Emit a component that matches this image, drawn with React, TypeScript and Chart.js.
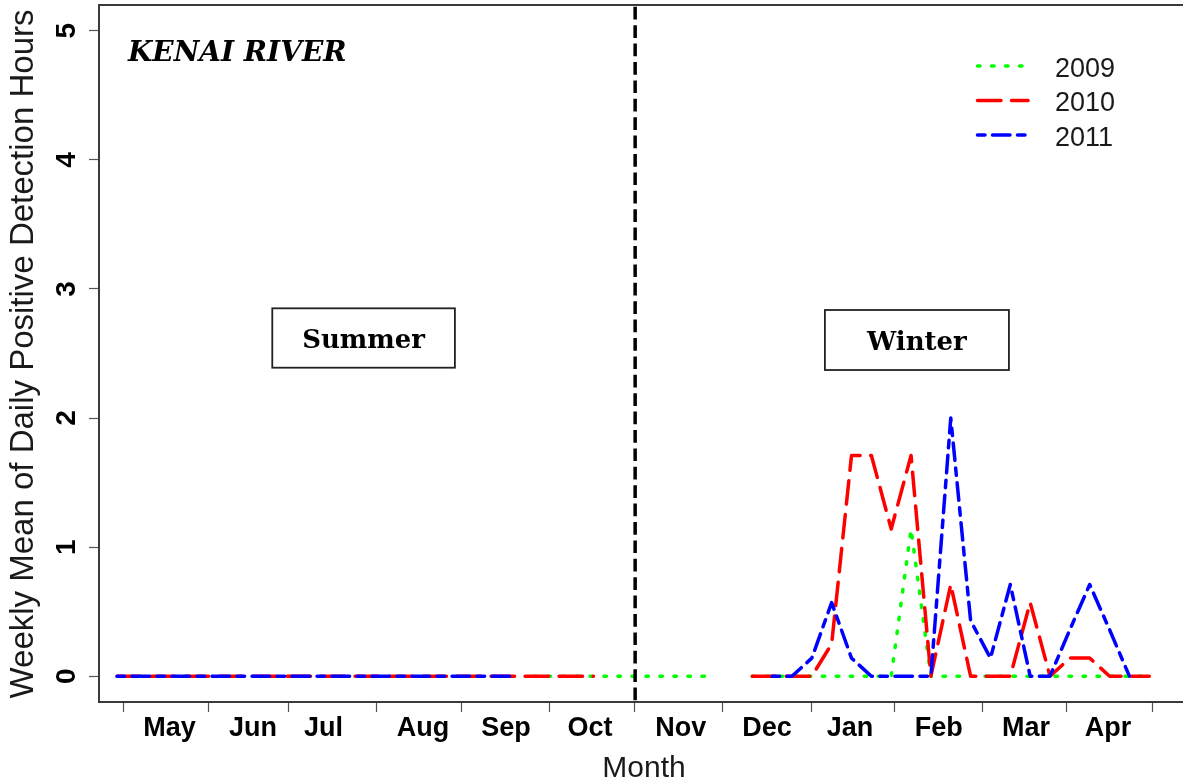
import React, { useEffect, useRef } from 'react';
import { Chart, registerables } from 'chart.js';

Chart.register(...registerables);

// ---- data (x = week index; null = no recording) ----
const WEEKS = [
  0, 1, 2, 3, 4, 5, 6, 7, 8, 9, 10, 11, 12, 13, 14, 15, 16, 17, 18, 19, 20,
  21, 22, 23, 24, 25, 26, 27, 28, 29, 30, 31, 32, 33, 34, 35, 36, 37, 38, 39,
  40, 41, 42, 43, 44, 45, 46, 47, 48, 49, 50, 51, 52,
];

const SERIES_2009 = [
  null, null, null, null, null, null, null, null, null, null, null,
  null, null, null, null, null, null, null, null, null, null,
  0, 0, 0, 0, 0, 0, 0, 0, 0, 0,
  null,
  0, 0, 0, 0, 0, 0, 0, 0, 1.14, 0, 0, 0, 0, 0, 0, 0, 0, 0, 0, 0, 0,
];

const SERIES_2010 = [
  0, 0, 0, 0, 0, 0, 0, 0, 0, 0, 0, 0, 0, 0, 0, 0, 0, 0, 0, 0, 0, 0, 0, 0, 0,
  null, null, null, null, null, null, null,
  0, 0, 0, 0, 0.25, 1.71, 1.71, 1.14, 1.71, 0, 0.71, 0, 0, 0, 0.57, 0, 0.14, 0.14, 0, 0, 0,
];

const SERIES_2011 = [
  0, 0, 0, 0, 0, 0, 0, 0, 0, 0, 0, 0, 0, 0, 0, 0, 0, 0, 0, 0, 0,
  null, null, null, null, null, null, null, null, null, null, null, null,
  0, 0, 0.14, 0.57, 0.14, 0, 0, 0, 0, 2.0, 0.43, 0.14, 0.71, 0, 0, 0.36, 0.71, 0.36, 0,
  null,
];

const YEARS = ['2009', '2010', '2011'];
const Y_TICKS = [0, 1, 2, 3, 4, 5];
const MONTH_LABELS = ['May', 'Jun', 'Jul', 'Aug', 'Sep', 'Oct', 'Nov', 'Dec', 'Jan', 'Feb', 'Mar', 'Apr'];
const MONTH_LABEL_WEEKS = [2.64, 6.85, 10.4, 15.41, 19.59, 23.82, 28.4, 32.74, 36.92, 41.39, 45.79, 49.92];
const MONTH_BOUNDARY_WEEKS = [0.3, 4.63, 8.66, 13.09, 17.33, 21.81, 26.09, 30.52, 34.96, 39.19, 43.62, 47.85, 52.18];
const SEASON_DIVIDER_WEEK = 26.1;

const SEASON_BOXES = [
  { text: 'Summer', x0: 7.82, x1: 17.02, y0: 2.39, y1: 2.85 },
  { text: 'Winter', x0: 35.66, x1: 44.93, y0: 2.372, y1: 2.837 },
];

const SANS = '"Liberation Sans", Arial, sans-serif';
const SERIF = '"DejaVu Serif", serif';

const overlayPlugin = {
  id: 'overlay',
  afterDatasetsDraw(chart: any) {
    const { ctx, chartArea: a, scales } = chart;
    const x = scales.x;
    const y = scales.y;
    ctx.save();

    // season divider
    const dx = x.getPixelForValue(SEASON_DIVIDER_WEEK);
    ctx.strokeStyle = '#000';
    ctx.lineWidth = 3.5;
    ctx.setLineDash([12.7, 5.7]);
    ctx.lineDashOffset = -1.8;
    ctx.beginPath();
    ctx.moveTo(dx, a.top);
    ctx.lineTo(dx, a.bottom);
    ctx.stroke();
    ctx.setLineDash([]);
    ctx.lineDashOffset = 0;

    // frame
    ctx.strokeStyle = '#3a3a3a';
    ctx.lineWidth = 2;
    ctx.beginPath();
    ctx.moveTo(a.right + 3, a.top);
    ctx.lineTo(a.left, a.top);
    ctx.lineTo(a.left, a.bottom);
    ctx.lineTo(a.right + 3, a.bottom);
    ctx.stroke();

    // season boxes
    ctx.font = 'bold 26px ' + SERIF;
    for (const b of SEASON_BOXES) {
      const px0 = x.getPixelForValue(b.x0);
      const px1 = x.getPixelForValue(b.x1);
      const py0 = y.getPixelForValue(b.y1);
      const py1 = y.getPixelForValue(b.y0);
      ctx.strokeStyle = '#222';
      ctx.lineWidth = 1.8;
      ctx.strokeRect(px0, py0, px1 - px0, py1 - py0);
      const m = ctx.measureText(b.text);
      const cx = (px0 + px1) / 2;
      const cy = (py0 + py1) / 2;
      ctx.fillStyle = '#000';
      ctx.textAlign = 'center';
      ctx.textBaseline = 'alphabetic';
      ctx.fillText(b.text, cx, cy + m.actualBoundingBoxAscent / 2);
    }

    // river label
    ctx.font = 'italic bold 28px ' + SERIF;
    ctx.fillStyle = '#000';
    ctx.textAlign = 'left';
    ctx.textBaseline = 'alphabetic';
    ctx.fillText('KENAI RIVER', a.left + 29, a.top + 55.5);

    // legend
    const ds = chart.data.datasets;
    const rowY = [a.top + 61, a.top + 95.5, a.top + 130];
    YEARS.forEach((yr, i) => {
      const d = ds.find((q: any) => q.label === yr);
      const ly = rowY[i];
      ctx.strokeStyle = d.borderColor;
      ctx.lineWidth = d.borderWidth;
      ctx.lineCap = 'round';
      ctx.setLineDash(d.borderDash);
      ctx.beginPath();
      ctx.moveTo(a.left + 878.5, ly);
      ctx.lineTo(a.left + 929, ly);
      ctx.stroke();
      ctx.setLineDash([]);
      ctx.font = '27px ' + SANS;
      ctx.fillStyle = '#1a1a1a';
      ctx.textAlign = 'left';
      ctx.textBaseline = 'alphabetic';
      ctx.fillText(yr, a.left + 956, ly + 10.7);
    });
    ctx.restore();
  },
  afterDraw(chart: any) {
    const { ctx, scales } = chart;
    const y = scales.y;
    ctx.save();
    // y tick labels (rotated, parallel to the axis)
    ctx.font = 'bold 28px ' + SANS;
    ctx.fillStyle = '#000';
    ctx.textAlign = 'center';
    ctx.textBaseline = 'alphabetic';
    for (const v of Y_TICKS) {
      const py = y.getPixelForValue(v);
      ctx.save();
      ctx.translate(75, py);
      ctx.rotate(-Math.PI / 2);
      ctx.fillText(String(v), 0, 0);
      ctx.restore();
    }
    // axis titles
    ctx.font = '33px ' + SANS;
    ctx.fillStyle = '#1a1a1a';
    ctx.save();
    ctx.translate(33, 354);
    ctx.rotate(-Math.PI / 2);
    ctx.fillText('Weekly Mean of Daily Positive Detection Hours', 0, 0);
    ctx.restore();
    ctx.font = '30px ' + SANS;
    ctx.fillText('Month', 644, 777);
    ctx.restore();
  },
};

export default function App() {
  const ref = useRef<HTMLCanvasElement | null>(null);

  useEffect(() => {
    if (!ref.current) return;
    const pts = (vals: (number | null)[]) => WEEKS.map((w, i) => ({ x: w, y: vals[i] }));
    const common = {
      borderWidth: 3.5,
      pointRadius: 0,
      pointHoverRadius: 0,
      fill: false,
      tension: 0,
      spanGaps: false,
      borderCapStyle: 'round',
      borderJoinStyle: 'round',
    };
    const nB = MONTH_BOUNDARY_WEEKS.length;
    const chart = new Chart(ref.current, {
      type: 'line',
      data: {
        datasets: [
          { ...common, label: YEARS[0], data: pts(SERIES_2009), borderColor: '#00ff00', borderDash: [2.5, 11.5], order: 3 },
          { ...common, label: YEARS[1], data: pts(SERIES_2010), borderColor: '#ff0000', borderDash: [23.5, 10.5], order: 2 },
          { ...common, label: YEARS[2], data: pts(SERIES_2011), borderColor: '#0000ff', borderDash: [7.5, 7.5, 17.5, 7.5], order: 1 },
        ] as any,
      },
      options: {
        responsive: false,
        animation: false,
        devicePixelRatio: 1,
        events: [],
        layout: { padding: { top: 5, left: 0, right: 0, bottom: 0 } },
        plugins: { legend: { display: false }, tooltip: { enabled: false } },
        scales: {
          x: {
            type: 'linear',
            min: -0.91,
            max: 53.7,
            afterBuildTicks: (s: any) => {
              s.ticks = [...MONTH_BOUNDARY_WEEKS, ...MONTH_LABEL_WEEKS].map((v) => ({ value: v }));
            },
            afterFit: (s: any) => {
              s.height = 78;
            },
            ticks: {
              autoSkip: false,
              maxRotation: 0,
              minRotation: 0,
              padding: 0,
              color: '#000',
              font: { family: SANS, size: 27, weight: 'bold' },
              callback: (_v: any, i: number) => (i < nB ? '' : MONTH_LABELS[i - nB]),
            },
            grid: {
              display: true,
              drawOnChartArea: false,
              drawTicks: true,
              tickLength: 10,
              tickWidth: 1.2,
              tickColor: (c: any) => (c.index < nB ? '#555' : 'rgba(0,0,0,0)'),
            },
            border: { display: false },
          },
          y: {
            type: 'linear',
            min: -0.2,
            max: 5.2,
            afterBuildTicks: (s: any) => {
              s.ticks = Y_TICKS.map((v) => ({ value: v }));
            },
            afterFit: (s: any) => {
              s.width = 99;
            },
            ticks: { display: false },
            grid: {
              display: true,
              drawOnChartArea: false,
              drawTicks: true,
              tickLength: 10,
              tickWidth: 1.2,
              tickColor: '#555',
            },
            border: { display: false },
          },
        },
      } as any,
      plugins: [overlayPlugin],
    });
    return () => chart.destroy();
  }, []);

  return (
    <div style={{ position: 'fixed', left: 0, top: 0, width: 1183, height: 780, background: '#fff' }}>
      <canvas ref={ref} width={1183} height={780} style={{ display: 'block' }} />
    </div>
  );
}
